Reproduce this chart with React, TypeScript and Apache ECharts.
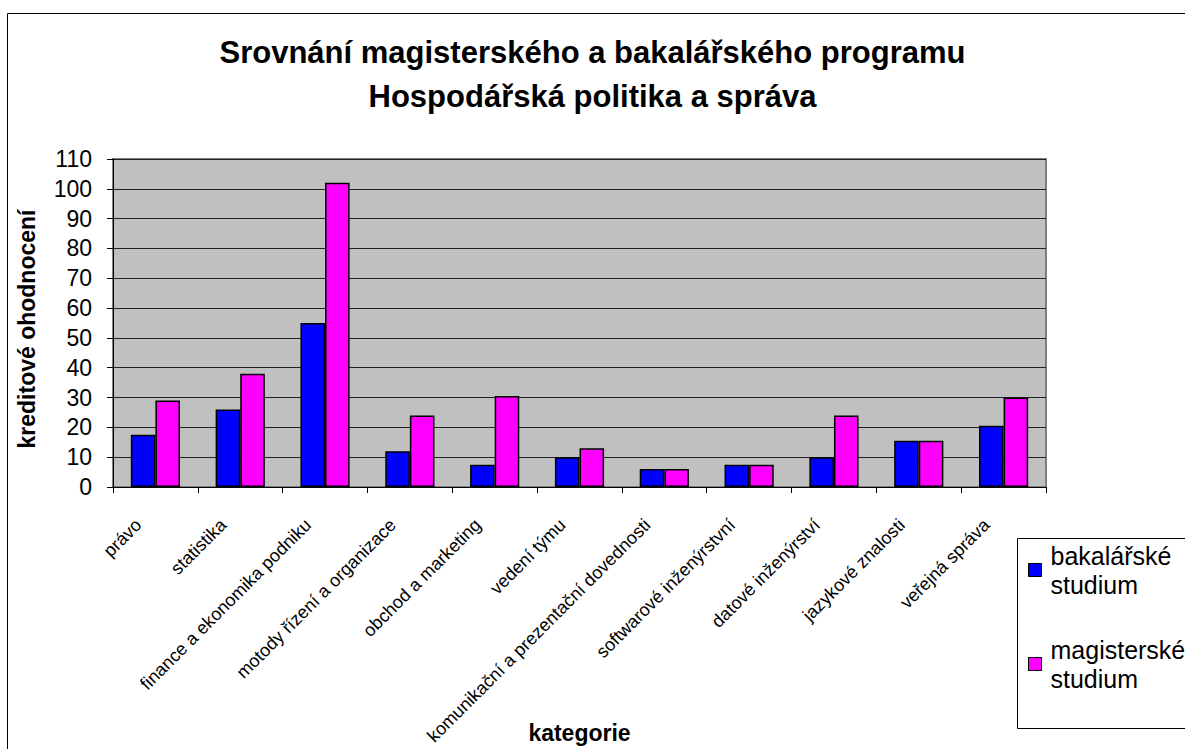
import React, { useEffect, useRef } from "react";
import * as echarts from "echarts";

const categories = [
  "právo",
  "statistika",
  "finance a ekonomika podniku",
  "motody řízení a organizace",
  "obchod a marketing",
  "vedení týmu",
  "komunikační a prezentační dovednosti",
  "softwarové inženýrstvní",
  "datové inženýrství",
  "jazykové znalosti",
  "veřejná správa",
];

const bachelorValues = [17.5, 26, 55, 12, 7.5, 10, 6, 7.5, 10, 15.5, 20.5];
const masterValues = [29, 38, 102, 24, 30.5, 13, 6, 7.5, 24, 15.5, 30];

const seriesNames = ["bakalářské studium", "magisterské studium"];
const seriesColors = ["#0000FF", "#FF00FF"];

const titleLines = [
  "Srovnání magisterského a bakalářského programu",
  "Hospodářská politika a správa",
];
const yAxisName = "kreditové ohodnocení";
const xAxisName = "kategorie";

const FONT = '"Liberation Sans", Arial, Helvetica, sans-serif';

export default function App() {
  const ref = useRef<HTMLDivElement>(null);

  useEffect(() => {
    if (!ref.current) return;
    const chart = echarts.init(ref.current, null, { renderer: "svg" });
    const option: any = {
      animation: false,
      backgroundColor: "#ffffff",
      textStyle: { fontFamily: FONT },
      title: {
        text: titleLines.join("\n"),
        left: "center",
        top: 30,
        padding: 0,
        textStyle: {
          fontFamily: FONT,
          fontSize: 31,
          fontWeight: "bold",
          lineHeight: 44,
          color: "#000",
        },
      },
      graphic: [
        {
          type: "rect",
          z: -10,
          silent: true,
          shape: { x: 7.5, y: 13.5, width: 1400, height: 900 },
          style: { fill: "none", stroke: "#000", lineWidth: 1 },
        },
        {
          type: "rect",
          z: 1,
          silent: true,
          shape: { x: 1017.5, y: 538.5, width: 300, height: 190 },
          style: { fill: "#fff", stroke: "#000", lineWidth: 1 },
        },
      ],
      legend: {
        orient: "vertical",
        left: 1028,
        top: 526.5,
        padding: 0,
        itemGap: 7,
        itemWidth: 13,
        itemHeight: 13,
        icon: "rect",
        z: 5,
        formatter: (n: string) => n.replace(" ", "\n"),
        itemStyle: { borderColor: "#000", borderWidth: 1 },
        textStyle: {
          fontFamily: FONT,
          fontSize: 25,
          lineHeight: 29,
          color: "#000",
          padding: [29, 0, 0, 4],
        },
        data: seriesNames,
      },
      grid: {
        left: 113,
        top: 159,
        right: 139,
        bottom: 262,
        containLabel: false,
        outerBoundsMode: "none",
        show: true,
        backgroundColor: "#C0C0C0",
        borderColor: "#808080",
        borderWidth: 2,
      },
      xAxis: {
        type: "category",
        data: categories,
        name: xAxisName,
        nameLocation: "middle",
        nameGap: 234,
        nameMoveOverlap: false,
        nameTextStyle: {
          fontFamily: FONT,
          fontSize: 23,
          fontWeight: "bold",
          color: "#000",
        },
        axisLine: { lineStyle: { color: "#000", width: 1 } },
        axisTick: { show: true, length: 6, lineStyle: { color: "#000" } },
        axisLabel: {
          interval: 0,
          rotate: 45,
          margin: 18,
          padding: [0, 24, 0, 0],
          fontFamily: FONT,
          fontSize: 18,
          color: "#000",
        },
        splitLine: { show: false },
      },
      yAxis: {
        type: "value",
        min: 0,
        max: 110,
        interval: 10,
        name: yAxisName,
        nameLocation: "middle",
        nameGap: 75,
        nameRotate: 90,
        nameMoveOverlap: false,
        nameTextStyle: {
          fontFamily: FONT,
          fontSize: 23,
          fontWeight: "bold",
          color: "#000",
          padding: [0, 12, 0, 0],
        },
        axisLine: { show: true, lineStyle: { color: "#000", width: 1 } },
        axisTick: { show: true, length: 6, lineStyle: { color: "#000" } },
        axisLabel: {
          margin: 21,
          fontFamily: FONT,
          fontSize: 23,
          color: "#000",
        },
        splitLine: { show: true, lineStyle: { color: "#222", width: 1 } },
      },
      series: [
        {
          name: seriesNames[0],
          type: "bar",
          data: bachelorValues,
          barGap: "0%",
          barCategoryGap: "42%",
          itemStyle: {
            color: seriesColors[0],
            borderColor: "#000",
            borderWidth: 1.5,
          },
        },
        {
          name: seriesNames[1],
          type: "bar",
          data: masterValues,
          barGap: "0%",
          barCategoryGap: "42%",
          itemStyle: {
            color: seriesColors[1],
            borderColor: "#000",
            borderWidth: 1.5,
          },
        },
      ],
    };
    chart.setOption(option);
    return () => chart.dispose();
  }, []);

  return (
    <div
      ref={ref}
      style={{
        position: "fixed",
        left: 0,
        top: 0,
        width: 1185,
        height: 749,
        background: "#fff",
      }}
    />
  );
}
